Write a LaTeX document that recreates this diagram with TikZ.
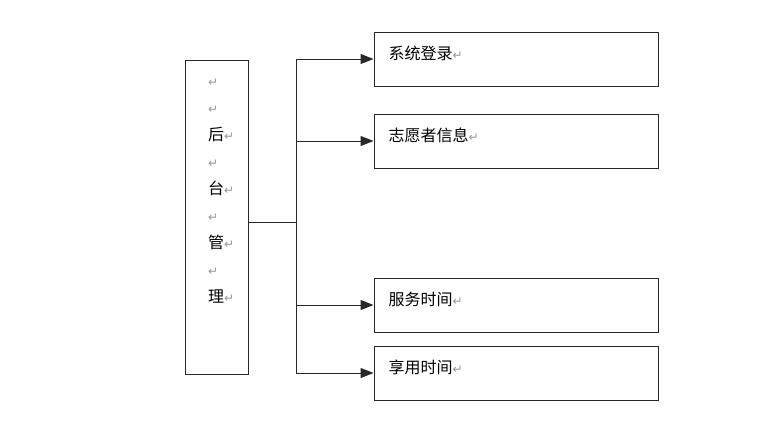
\documentclass[tikz,border=0pt]{standalone}
\usepackage{fontspec}
\usepackage{tikz}
\usetikzlibrary{arrows.meta,calc}
\newfontfamily\cjk{Noto Sans CJK SC}
\newfontfamily\dvsans{DejaVu Sans}
\definecolor{boxline}{RGB}{40,40,40}
\definecolor{retgray}{RGB}{150,150,150}
\newcommand{\retmark}{{\dvsans\fontsize{12}{12}\selectfont\textcolor{retgray}{↵}}}
\tikzset{box/.style={draw=boxline,line width=1pt,inner sep=0pt},
 link/.style={draw=boxline,line width=1pt},
 arr/.style={link,-{Triangle[length=13pt,width=10pt]}},
 label/.style={anchor=north west,inner sep=0pt,font=\cjk\fontsize{16}{16}\selectfont}}

\begin{document}
\begin{tikzpicture}[x=1pt,y=-1pt]
\useasboundingbox (0,0) rectangle (780,426);
\node[box,minimum width=63pt,minimum height=314pt] (hq) at (216.5,217) {};
\node[label,align=left,font=\cjk\fontsize{16}{27}\selectfont] (hqtext) at (208,79)
 {\retmark\\ \retmark\\ 后\retmark\\ \retmark\\ 台\retmark\\ \retmark\\ 管\retmark\\ \retmark\\ 理\retmark};
\node[box,minimum width=284pt,minimum height=54pt] (s1) at (516,59) {};
\node[box,minimum width=284pt,minimum height=54pt] (s2) at (516,141) {};
\node[box,minimum width=284pt,minimum height=54pt] (s3) at (516,305) {};
\node[box,minimum width=284pt,minimum height=54pt] (s4) at (516,373) {};
\node[label] (l1) at ($(s1.north west)+(15,14)$) {系统登录\retmark};
\node[label] (l2) at ($(s2.north west)+(15,14)$) {志愿者信息\retmark};
\node[label] (l3) at ($(s3.north west)+(15,14)$) {服务时间\retmark};
\node[label] (l4) at ($(s4.north west)+(15,14)$) {享用时间\retmark};
\coordinate (j) at (296,222);
\coordinate (t1) at (j |- s1.west);
\coordinate (t4) at (j |- s4.west);
\draw[link] (j -| hq.east) -- (j);
\draw[link] (t1) -- (t4);
\draw[arr] (t1) -- (s1.west);
\draw[arr] (j |- s2.west) -- (s2.west);
\draw[arr] (j |- s3.west) -- (s3.west);
\draw[arr] (t4) -- (s4.west);
\end{tikzpicture}
\end{document}
